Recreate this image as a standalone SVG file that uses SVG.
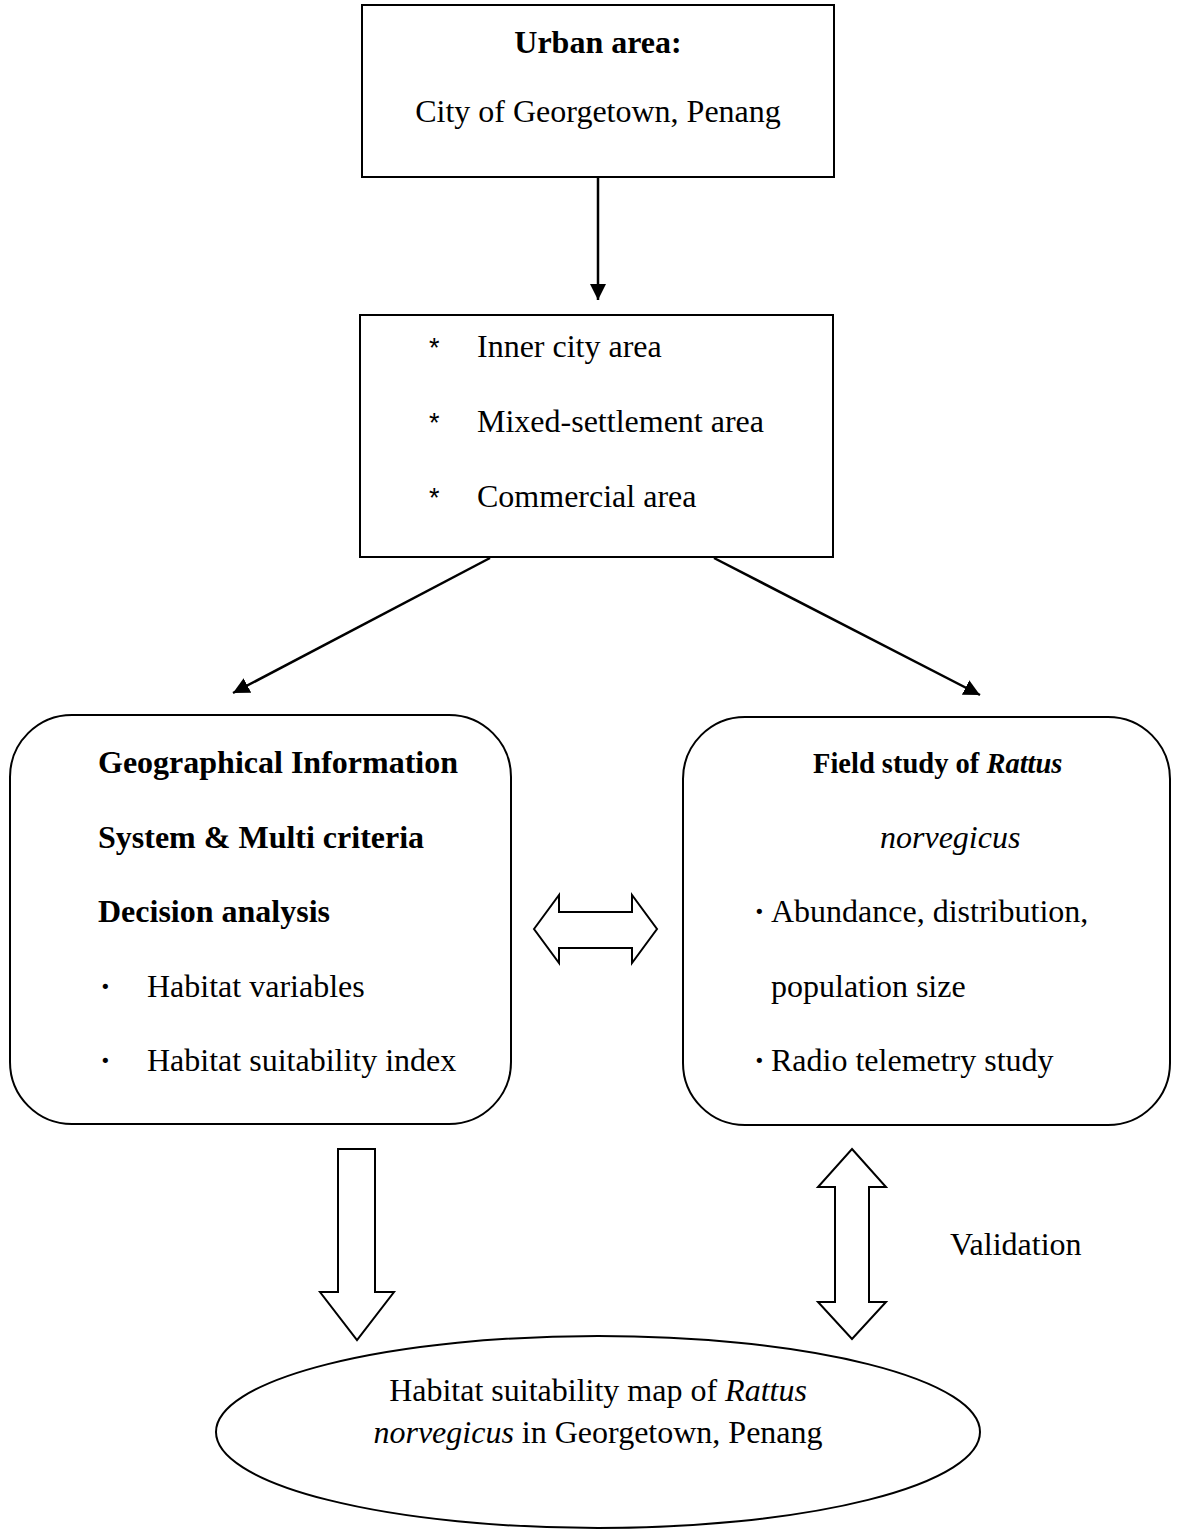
<svg xmlns="http://www.w3.org/2000/svg" width="1178" height="1530" viewBox="0 0 1178 1530">
<defs>
<style>
text{font-family:"Liberation Serif","Times New Roman",serif;font-size:32px;fill:#000}
.b{font-weight:bold}
.i{font-style:italic}
.t{font-size:28.5px}
.ast{font-family:"Liberation Sans",Arial,sans-serif;font-size:27px}
.dot{font-weight:bold}
.box{fill:#fff;stroke:#000;stroke-width:2}
.ln{stroke:#000;stroke-width:2.5;fill:none}
</style>
<marker id="ah" viewBox="0 0 10 10" refX="10" refY="5" markerWidth="6.5" markerHeight="6.5" orient="auto" markerUnits="strokeWidth">
<path d="M0,0 L10,5 L0,10 z" fill="#000"/>
</marker>
</defs>
<rect width="1178" height="1530" fill="#fff"/>
<g id="connectors">
<line class="ln" x1="598" y1="177" x2="598" y2="300" marker-end="url(#ah)"/>
<line class="ln" x1="490" y1="558" x2="233" y2="693" marker-end="url(#ah)"/>
<line class="ln" x1="714" y1="558" x2="980" y2="695" marker-end="url(#ah)"/>
<path class="box" d="M534,929 L559,895 L559,912 L632,912 L632,895 L657,929 L632,963 L632,948 L559,948 L559,963 Z"/>
<path class="box" d="M338,1149 L375,1149 L375,1292 L394,1292 L357,1340 L320,1292 L338,1292 Z"/>
<path class="box" d="M852,1149 L886,1187 L869,1187 L869,1302 L886,1302 L852,1339 L818,1302 L835,1302 L835,1187 L818,1187 Z"/>
</g>
<g id="urban">
<rect class="box" x="362" y="5" width="472" height="172"/>
<text class="b" x="598" y="53" text-anchor="middle">Urban area:</text>
<text x="598" y="122" text-anchor="middle">City of Georgetown, Penang</text>
</g>
<g id="areas">
<rect class="box" x="360" y="315" width="473" height="242"/>
<text class="ast" x="429" y="357">*</text><text x="477" y="357">Inner city area</text>
<text class="ast" x="429" y="432">*</text><text x="477" y="432">Mixed-settlement area</text>
<text class="ast" x="429" y="507">*</text><text x="477" y="507">Commercial area</text>
</g>
<g id="gis">
<rect class="box" x="10" y="715" width="501" height="409" rx="62" ry="62"/>
<text class="b" x="98" y="773">Geographical Information</text>
<text class="b" x="98" y="848">System &amp; Multi criteria</text>
<text class="b" x="98" y="922">Decision analysis</text>
<text class="dot" x="100" y="997">·</text><text x="147" y="997">Habitat variables</text>
<text class="dot" x="100" y="1071">·</text><text x="147" y="1071">Habitat suitability index</text>
</g>
<g id="field">
<rect class="box" x="683" y="717" width="487" height="408" rx="62" ry="62"/>
<text class="b t" x="813" y="773">Field study of <tspan class="i">Rattus</tspan></text>
<text class="i" x="880" y="848">norvegicus</text>
<text class="dot" x="754" y="922">·</text><text x="771" y="922">Abundance, distribution,</text>
<text x="771" y="997">population size</text>
<text class="dot" x="754" y="1071">·</text><text x="771" y="1071">Radio telemetry study</text>
</g>
<g id="validation">
<text x="950" y="1255">Validation</text>
</g>
<g id="map">
<ellipse class="box" cx="598" cy="1432" rx="382" ry="96"/>
<text x="598" y="1401" text-anchor="middle">Habitat suitability map of <tspan class="i">Rattus</tspan></text>
<text x="598" y="1443" text-anchor="middle"><tspan class="i">norvegicus</tspan> in Georgetown, Penang</text>
</g>
</svg>
